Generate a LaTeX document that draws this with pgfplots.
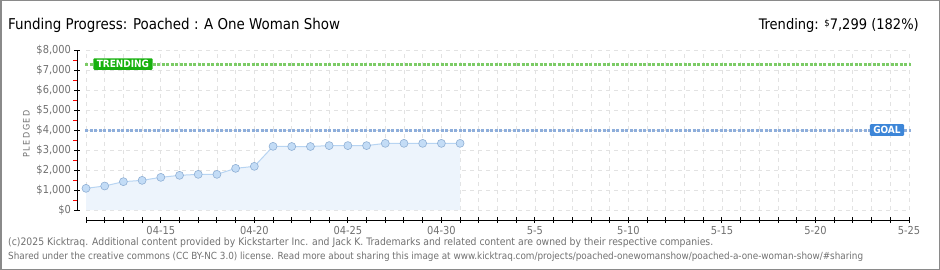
\documentclass[border=0pt]{standalone}
\usepackage{fontspec}
\setmainfont{DejaVu Sans Condensed}
\usepackage{graphicx}
\usepackage{pgfplots}
\pgfplotsset{compat=1.18}
\definecolor{gridc}{HTML}{E2E2E2}
\definecolor{goalc}{HTML}{8EAEDB}
\definecolor{trendc}{HTML}{7CCB66}
\definecolor{trendbox}{HTML}{17B10E}
\definecolor{goalbox}{HTML}{3D86D8}
\definecolor{linec}{HTML}{B7D4F2}
\definecolor{markf}{HTML}{C3DCF6}
\definecolor{markd}{HTML}{8FAFD4}
\definecolor{areac}{HTML}{EDF4FC}
\definecolor{labc}{HTML}{707070}
\definecolor{framec}{HTML}{8A8A8A}
\pgfplotstableread{
d v
0 1083
1 1200
2 1417
3 1483
4 1633
5 1733
6 1783
7 1783
8 2083
9 2183
10 3183
11 3175
12 3175
13 3220
14 3220
15 3220
16 3333
17 3333
18 3333
19 3333
20 3333
}\pledged
\begin{document}
\begin{tikzpicture}
\useasboundingbox (0bp,0bp) rectangle (940bp,270bp);
\draw[framec, line width=1.5bp] (0.75bp,0.75bp) rectangle (939.25bp,269.25bp);
\node[anchor=base west, inner sep=0] at (8bp,240bp) {\resizebox{332bp}{!}{\fontsize{15}{17}\selectfont Funding Progress: Poached : A One Woman Show}};
\node[anchor=base east, inner sep=0] at (919bp,240bp) {\resizebox{160bp}{!}{\fontsize{14}{16}\selectfont Trending: \raisebox{3bp}{\fontsize{9}{10}\selectfont\$}7,299 (182\%)}};
\begin{axis}[
  at={(86bp,60bp)}, anchor=south west,
  scale only axis, width=823bp, height=160bp,
  xmin=0, xmax=44, ymin=0, ymax=8000,
  axis x line=bottom, axis y line=left,
  axis x line shift=10bp, axis y line shift=9bp,
  axis line style={-, black, line width=1bp},
  xtick={4,9,...,44},
  xticklabels={04-15,04-20,04-25,04-30,5-5,5-10,5-15,5-20,5-25},
  minor xtick={0,...,44},
  ytick={0,1000,...,8000},
  yticklabels={{\$0},{\$1,000},{\$2,000},{\$3,000},{\$4,000},{\$5,000},{\$6,000},{\$7,000},{\$8,000}},
  minor ytick={500,1500,...,7500},
  tick align=center,
  major tick length=5bp, minor tick length=5bp,
  tick style={black, line width=1bp},
  minor y tick style={red, line width=1bp, xshift=-1.5bp},
  xmajorgrids, xminorgrids, ymajorgrids,
  grid style={gridc, dash pattern=on 4bp off 4bp, line width=0.8bp},
  minor grid style={gridc, dash pattern=on 4bp off 4bp, line width=0.8bp},
  ticklabel style={font=\fontsize{11}{12}\selectfont, text=labc},
  ylabel={\fontsize{9}{10}\selectfont P\,L\,E\,D\,G\,E\,D},
  ylabel style={text=labc, xshift=-4bp},
  clip=false,
]
\addplot[draw=none, fill=areac] table[x=d,y=v] {\pledged} \closedcycle;
\addplot[goalc, line width=3bp, dash pattern=on 3bp off 1.5bp] coordinates {(-0.05,4000) (44.1,4000)};
\addplot[trendc, line width=3bp, dash pattern=on 3bp off 1.5bp] coordinates {(-0.05,7299) (44.1,7299)};
\addplot[linec, line width=1bp, mark=*, mark size=4bp, mark options={fill=markf, draw=markd, line width=0.6bp}] table[x=d,y=v] {\pledged};
\node[fill=trendbox, text=white, rounded corners=1bp, inner xsep=3.5bp, inner ysep=2bp, font=\fontsize{10}{11}\selectfont\bfseries, anchor=west] at (axis cs:0.38,7299) {TRENDING};
\node[fill=goalbox, text=white, rounded corners=1bp, inner xsep=3.5bp, inner ysep=2bp, font=\fontsize{10}{11}\selectfont\bfseries, anchor=east] at (axis cs:43.75,4000) {GOAL};
\end{axis}
\node[anchor=base west, inner sep=0, text=labc] at (8bp,24bp) {\resizebox{705bp}{!}{\fontsize{9}{10}\selectfont (c)2025 Kicktraq. Additional content provided by Kickstarter Inc. and Jack K. Trademarks and related content are owned by their respective companies.}};
\node[anchor=base west, inner sep=0, text=labc] at (8bp,11bp) {\resizebox{855bp}{!}{\fontsize{9}{10}\selectfont Shared under the creative commons (CC BY-NC 3.0) license. Read more about sharing this image at www.kicktraq.com/projects/poached-onewomanshow/poached-a-one-woman-show/\#sharing}};
\end{tikzpicture}
\end{document}
